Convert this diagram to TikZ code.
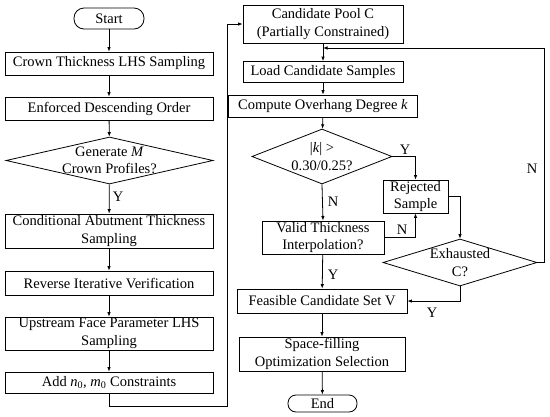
\documentclass[tikz,border=0pt]{standalone}
\usepackage{fontspec}
\setmainfont{Liberation Serif}
\usetikzlibrary{arrows.meta,calc,shapes.geometric}

\begin{document}
\begin{tikzpicture}[x=1pt, y=-1pt, >={Latex[length=4.5pt,width=3.5pt]},
  font=\fontsize{14.5}{17.5}\selectfont, line width=0.8pt,
  box/.style={draw, inner sep=0pt, align=center},
  term/.style={draw, inner sep=0pt, rounded corners=8pt},
  dia/.style={draw, diamond, inner sep=0pt}]
  \useasboundingbox (0,0) rectangle (550,416);

  \node[term, minimum width=70pt, minimum height=21pt, rounded corners=10pt] (start) at (109,18.5) {Start};
  \node[box, minimum width=208pt, minimum height=23pt] (crown) at (109,63.5) {Crown Thickness LHS Sampling};
  \node[box, minimum width=208pt, minimum height=23pt] (order) at (109,108.5) {Enforced Descending Order};
  \node[dia, minimum width=207pt, minimum height=47pt] (gen) at (109.5,160.5) {};
  \node[align=center] at (gen) {Generate \textit{M}\\Crown Profiles?};
  \node[box, minimum width=208pt, minimum height=34pt] (abut) at (109,231) {Conditional Abutment Thickness\\Sampling};
  \node[box, minimum width=208pt, minimum height=24pt] (verify) at (109,283) {Reverse Iterative Verification};
  \node[box, minimum width=208pt, minimum height=33pt] (face) at (109,333.5) {Upstream Face Parameter LHS\\Sampling};
  \node[box, minimum width=208pt, minimum height=21pt] (nm) at (109,382.5) {Add \textit{n}\textsubscript{0}, \textit{m}\textsubscript{0} Constraints};

  \node[box, minimum width=160pt, minimum height=38pt] (pool) at (323,24) {Candidate Pool C\\(Partially Constrained)};
  \node[box, minimum width=160pt, minimum height=21pt] (load) at (323,72) {Load Candidate Samples};
  \node[box, minimum width=189pt, minimum height=22pt] (kdeg) at (323,106) {Compute Overhang Degree \textit{k}};
  \node[dia, minimum width=140pt, minimum height=55pt] (kchk) at (322,156.5) {};
  \node[align=center] at (kchk) {|\textit{k}| >\\0.30/0.25?};
  \node[box, minimum width=65pt, minimum height=33pt] (rej) at (415.5,196.5) {Rejected\\Sample};
  \node[box, minimum width=122pt, minimum height=33pt] (valid) at (323,237.5) {Valid Thickness\\Interpolation?};
  \node[dia, minimum width=154pt, minimum height=47pt] (exh) at (460,262.5) {};
  \node[align=center] at (exh) {Exhausted\\C?};
  \node[box, minimum width=170pt, minimum height=24pt] (feas) at (322,301) {Feasible Candidate Set V};
  \node[box, minimum width=166pt, minimum height=34pt] (fill) at (322,354) {Space-filling\\Optimization Selection};
  \node[term, minimum width=69pt, minimum height=17pt] (end) at (322.5,403.5) {End};

  \coordinate (loop) at (227,406);
  \coordinate (back) at (323,48);

  \draw[->] (start) -- (crown);
  \draw[->] (crown) -- (order);
  \draw[->] (order) -- (gen);
  \draw[->] (gen) -- (abut);
  \draw[->] (abut) -- (verify);
  \draw[->] (verify) -- (face);
  \draw[->] (face) -- (nm);
  \draw[->] (nm.south) |- (loop) |- (pool.west);

  \draw[->] (pool) -- (load);
  \draw[->] (load) -- (kdeg);
  \draw[->] (kdeg) -- (kchk);
  \draw[->] (kchk.east) -| (rej.north);
  \draw[->] (kchk.south) -- (valid.north);
  \draw[->] (valid.east) -| (rej.south);
  \draw[->] (rej.east) -| (exh.north);
  \draw[->] (exh.east) -- ++(7,0) |- (back);
  \draw[->] (exh.south) |- (feas.east);
  \draw[->] (valid) -- (feas);
  \draw[->] (feas) -- (fill);
  \draw[->] (fill) -- (end);

  \node at (118,197) {Y};
  \node at (405,150) {Y};
  \node at (333,202) {N};
  \node at (402,230) {N};
  \node at (532,169) {N};
  \node at (333,275) {Y};
  \node at (432,313) {Y};
\end{tikzpicture}
\end{document}
